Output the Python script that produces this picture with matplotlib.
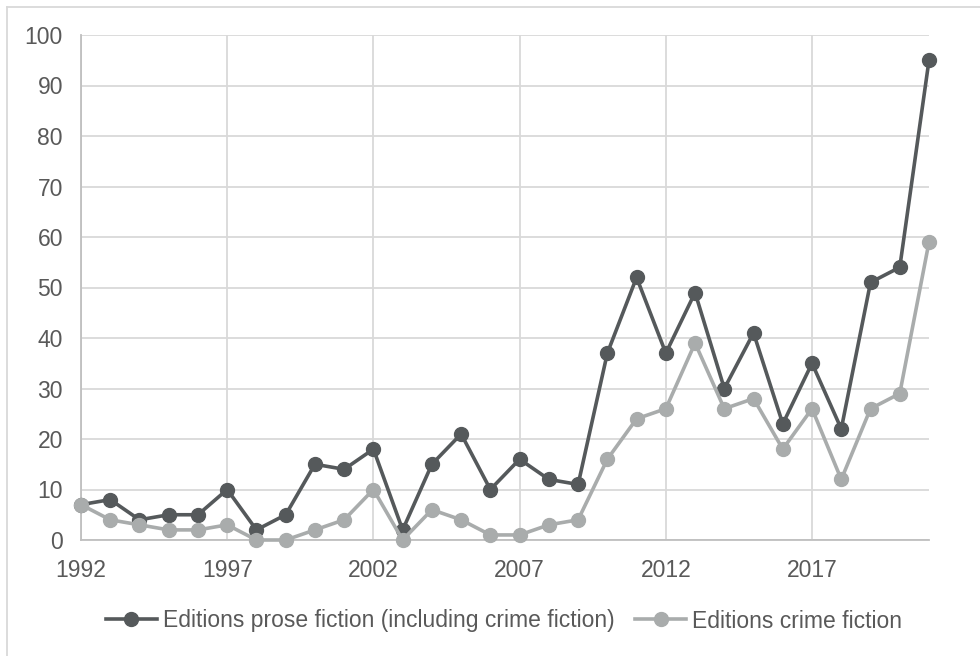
import matplotlib
matplotlib.use("Agg")
import matplotlib.pyplot as plt
from matplotlib.lines import Line2D

years = list(range(1992, 2022))
prose = [7, 8, 4, 5, 5, 10, 2, 5, 15, 14, 18, 2, 15, 21, 10, 16, 12, 11,
         37, 52, 37, 49, 30, 41, 23, 35, 22, 51, 54, 95]
crime = [7, 4, 3, 2, 2, 3, 0, 0, 2, 4, 10, 0, 6, 4, 1, 1, 3, 4,
         16, 24, 26, 39, 26, 28, 18, 26, 12, 26, 29, 59]
xticks = [1992, 1997, 2002, 2007, 2012, 2017]
yticks = list(range(0, 101, 10))
labels = ["Editions prose fiction (including crime fiction)", "Editions crime fiction"]

dark = "#55595b"
light = "#a9acac"
grid = "#d9d9d9"
axis_c = "#bfbfbf"
text_c = "#595959"

plt.rcParams['font.family'] = ['Liberation Sans', 'DejaVu Sans']

W, H = 980, 656
fig = plt.figure(figsize=(W / 100, H / 100), dpi=100)
ax = fig.add_axes([81 / W, 1 - 540 / H, (929 - 81) / W, (540 - 35) / H])

ax.plot(years, prose, color=dark, lw=2.6, marker='o', ms=10, label=labels[0], zorder=3, clip_on=False)
ax.plot(years, crime, color=light, lw=2.6, marker='o', ms=10, label=labels[1], zorder=3, clip_on=False)

ax.set_xlim(1992, 2021)
ax.set_ylim(0, 100)
ax.set_xticks(xticks)
ax.set_yticks(yticks)
ax.grid(True, color=grid, lw=1.3, zorder=0)
for s in ['top', 'right']:
    ax.spines[s].set_visible(False)
ax.spines['left'].set_color(axis_c)
ax.spines['bottom'].set_color(axis_c)
ax.spines['left'].set_linewidth(1.3)
ax.spines['bottom'].set_linewidth(1.3)
ax.tick_params(length=0, labelsize=16.5, colors=text_c)
ax.tick_params(axis='y', pad=13)
ax.tick_params(axis='x', pad=14)

leg = fig.legend(loc='center', bbox_to_anchor=(504 / W, 1 - 621 / H), ncol=2, frameon=False,
                 fontsize=16.5, handlelength=2.25, columnspacing=0.87, handletextpad=0.26,
                 labelcolor=text_c)

# outer chart border (top and left visible)
fig.add_artist(Line2D([7 / W, 1.0], [1 - 7 / H, 1 - 7 / H], color=grid, lw=1.3, transform=fig.transFigure))
fig.add_artist(Line2D([7 / W, 7 / W], [0.0, 1 - 7 / H], color=grid, lw=1.3, transform=fig.transFigure))

fig.savefig("out.png", dpi=100)
